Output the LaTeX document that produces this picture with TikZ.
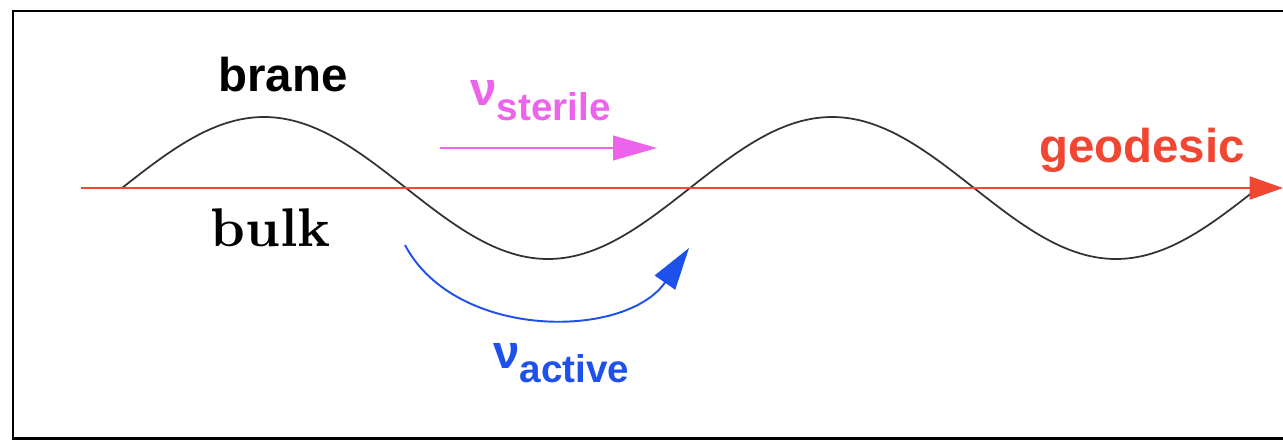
\documentclass[tikz,border=0pt]{standalone}
\usepackage{fontspec}
\usetikzlibrary{arrows.meta}
\newfontfamily\labelfont{Liberation Sans}
\newfontfamily\bulkfont{lmroman10-bold.otf}
\definecolor{geored}{RGB}{240,70,50}
\definecolor{sterilepink}{RGB}{236,100,236}
\definecolor{activeblue}{RGB}{30,80,236}
\definecolor{branegray}{RGB}{50,50,50}
\begin{document}
\begin{tikzpicture}[x=0.02cm,y=-0.02cm,
  txt/.style={font=\labelfont\bfseries\fontsize{27}{30}\selectfont,inner sep=0pt,anchor=base},
  flow/.style={line width=1.2pt,-{Triangle[length=25pt,width=14pt]}}]
\useasboundingbox (0,0) rectangle (1283,440);
\draw[line width=1.7pt] (1283,11) -- (13,11) -- (13,438) -- (1283,438);

\draw[branegray,line width=1pt,domain=0:720,samples=240]
  plot ({122+\x/180*284},{188-71*sin(\x)});

\coordinate (geo start) at (81,188);
\coordinate (geo end) at (1283,188);
\draw[geored,line width=1.5pt,-{Triangle[length=19pt,width=13pt]}] (geo start) -- (geo end);

\node[txt] (brane) at (283,91) {brane};
\node[inner sep=0pt,anchor=base,font=\bulkfont\fontsize{31}{33}\selectfont] (bulk) at (271,246) {bulk};
\node[txt,geored] (geodesic) at (1142,162) {geodesic};

\node[txt,sterilepink,anchor=base west] (sterile) at (470,105)
  {ν\raisebox{-9pt}{\fontsize{22}{24}\selectfont sterile}};
\coordinate (sterile start) at (440,148);
\coordinate (sterile end) at (657,148);
\draw[flow,sterilepink] (sterile start) -- (sterile end);

\node[txt,activeblue,anchor=base west] (active) at (493,368)
  {ν\raisebox{-8pt}{\fontsize{22}{24}\selectfont active}};
\coordinate (active start) at (405,245);
\coordinate (active end) at (689,248);
\draw[flow,activeblue,line width=1.1pt,-{Triangle[length=24pt,width=14pt]}] (active start)
  .. controls (455,340) and (625,340) .. (active end);
\end{tikzpicture}
\end{document}
